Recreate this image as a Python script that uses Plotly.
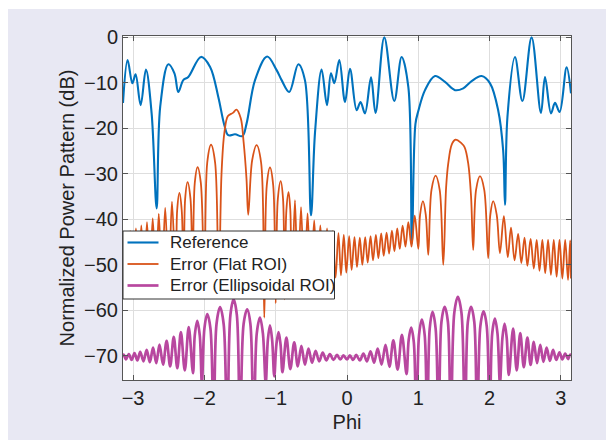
import plotly.graph_objects as go

# ---- Reference pattern (blue) ----
phi_ref = [-3.1416, -3.077, -3.01, -2.965, -2.894, -2.82, -2.74, -2.67, -2.62, -2.506,
           -2.42, -2.366, -2.296, -2.226, -2.048, -1.92, -1.805, -1.72, -1.665, -1.57,
           -1.468, -1.408, -1.29, -1.12, -0.987, -0.917, -0.81, -0.683, -0.59, -0.505,
           -0.449, -0.356, -0.281, -0.225, -0.178, -0.108, -0.028, 0.042, 0.135, 0.19,
           0.252, 0.337, 0.40, 0.523, 0.663, 0.766, 0.86, 0.91, 0.96, 1.0,
           1.094, 1.234, 1.374, 1.515, 1.63, 1.748, 1.888, 2.006, 2.12, 2.19,
           2.216, 2.25, 2.356, 2.46, 2.589, 2.72, 2.777, 2.861, 2.917, 2.982,
           3.08, 3.1416]
db_ref = [-14.4, -5.0, -10.1, -8.1, -14.9, -7.1, -16.7, -37.6, -15.3, -5.9,
          -7.9, -12.0, -9.4, -8.7, -4.3, -6.5, -13.1, -19.3, -21.5, -21.3,
          -21.7, -18.9, -9.4, -4.2, -7.2, -9.4, -12.0, -5.9, -9.4, -39.1,
          -21.0, -7.1, -14.9, -7.9, -10.1, -5.0, -14.2, -6.9, -16.0, -14.2,
          -16.7, -8.8, -16.6, 0.0, -14.0, -4.3, -10.9, -45.3, -19.0, -16.2,
          -11.6, -8.5, -9.8, -11.6, -11.2, -9.6, -8.5, -10.1, -16.0, -24.8,
          -36.8, -17.5, -4.3, -14.0, 0.0, -16.6, -8.7, -16.7, -14.4, -16.4,
          -6.6, -12.3]

# ---- Error with flat ROI (orange) ----
phi_flat = [-3.1416, -3.12, -3.08, -3.04, -3.00, -2.96, -2.92, -2.885, -2.845, -2.805,
            -2.765, -2.725, -2.68, -2.64, -2.595, -2.55, -2.50, -2.455, -2.40, -2.382,
            -2.35, -2.318, -2.29, -2.27, -2.236, -2.195, -2.165, -2.135, -2.095, -2.05,
            -2.00, -1.96, -1.907, -1.85, -1.80, -1.76, -1.72, -1.67, -1.60, -1.55,
            -1.49, -1.45, -1.41, -1.385, -1.33, -1.268, -1.205, -1.16, -1.125, -1.08,
            -1.035, -1.0, -0.97, -0.93, -0.897, -0.875, -0.85, -0.82, -0.795, -0.775,
            -0.73, -0.69, -0.645, -0.60, -0.553, -0.51, -0.46, -0.42, -0.374, -0.33,
            -0.28, -0.24, -0.20, -0.16, -0.12, -0.085, -0.045, -0.01, 0.03, 0.065,
            0.105, 0.14, 0.18, 0.215, 0.255, 0.29, 0.33, 0.365, 0.405, 0.44,
            0.48, 0.515, 0.555, 0.59, 0.63, 0.665, 0.705, 0.74, 0.78, 0.82,
            0.86, 0.905, 0.95, 1.0, 1.025, 1.065, 1.105, 1.14, 1.185, 1.243,
            1.30, 1.35, 1.39, 1.42, 1.47, 1.52, 1.60, 1.65, 1.70, 1.74,
            1.77, 1.81, 1.865, 1.925, 1.98, 2.01, 2.05, 2.10, 2.145, 2.20,
            2.255, 2.30, 2.35, 2.40, 2.445, 2.49, 2.53, 2.575, 2.62, 2.66,
            2.70, 2.74, 2.78, 2.82, 2.86, 2.90, 2.94, 2.98, 3.02, 3.06,
            3.10, 3.13, 3.1416]
db_flat = [-47.0, -43.1, -52.8, -42.6, -52.9, -42.0, -53.0, -41.3, -53.2, -40.6,
           -53.4, -39.8, -53.6, -38.8, -53.9, -37.5, -54.2, -36.1, -54.6, -38.0,
           -34.2, -38.0, -55.0, -35.5, -31.8, -35.5, -55.5, -32.0, -28.5, -32.0,
           -56.0, -27.5, -23.6, -27.5, -56.5, -30.0, -21.0, -17.3, -16.6, -15.9,
           -17.8, -23.0, -31.0, -39.0, -27.0, -23.7, -27.5, -61.6, -32.5, -28.6,
           -32.5, -58.4, -35.5, -31.6, -35.5, -57.6, -38.0, -34.0, -38.0, -56.5,
           -35.8, -55.6, -37.3, -54.9, -38.7, -54.3, -40.2, -53.8, -41.3, -53.4,
           -42.0, -53.1, -42.6, -52.8, -43.0, -52.3, -43.4, -51.7, -43.7, -51.1,
           -43.9, -50.5, -44.0, -50.0, -43.9, -49.5, -43.7, -49.0, -43.4, -48.5,
           -43.1, -48.0, -42.9, -47.5, -42.5, -47.0, -42.0, -46.5, -41.4, -46.0,
           -40.6, -46.0, -39.2, -46.5, -39.0, -36.0, -39.0, -47.8, -33.5, -30.4,
           -33.5, -50.0, -33.0, -27.7, -23.5, -22.5, -23.2, -24.2, -27.7, -35.0,
           -46.7, -33.5, -30.5, -33.5, -48.5, -39.0, -36.0, -39.0, -47.4, -39.3,
           -48.3, -41.8, -49.0, -43.2, -49.6, -44.0, -50.2, -44.3, -50.8, -44.5,
           -51.3, -44.5, -51.8, -44.5, -52.2, -44.5, -52.6, -44.5, -53.0, -44.5,
           -53.3, -44.6, -53.0]

# ---- Error with ellipsoidal ROI (magenta) ----
phi_ell = [-3.1416, -3.13, -3.10, -3.06, -3.02, -2.98, -2.94, -2.90, -2.855, -2.81,
           -2.765, -2.72, -2.675, -2.63, -2.58, -2.53, -2.48, -2.43, -2.38, -2.33,
           -2.275, -2.22, -2.16, -2.135, -2.10, -2.065, -2.035, -2.00, -1.96, -1.915,
           -1.87, -1.83, -1.78, -1.73, -1.68, -1.635, -1.59, -1.545, -1.50, -1.45,
           -1.40, -1.355, -1.31, -1.265, -1.22, -1.18, -1.14, -1.11, -1.08, -1.05,
           -1.02, -0.99, -0.96, -0.932, -0.905, -0.85, -0.795, -0.74, -0.69, -0.64,
           -0.59, -0.54, -0.49, -0.44, -0.39, -0.34, -0.29, -0.24, -0.19, -0.14,
           -0.095, -0.05, 0.0, 0.04, 0.085, 0.13, 0.18, 0.23, 0.28, 0.33,
           0.38, 0.43, 0.485, 0.54, 0.595, 0.65, 0.71, 0.77, 0.835, 0.865,
           0.90, 0.937, 0.975, 1.01, 1.05, 1.09, 1.125, 1.16, 1.20, 1.243,
           1.285, 1.325, 1.37, 1.415, 1.455, 1.505, 1.555, 1.605, 1.655, 1.695,
           1.74, 1.785, 1.825, 1.87, 1.915, 1.96, 2.0, 2.037, 2.075, 2.11,
           2.145, 2.18, 2.21, 2.24, 2.27, 2.33, 2.38, 2.43, 2.48, 2.53,
           2.575, 2.62, 2.665, 2.71, 2.755, 2.80, 2.845, 2.89, 2.935, 2.98,
           3.02, 3.06, 3.10, 3.13, 3.1416]
db_ell = [-70.3, -69.7, -70.8, -69.6, -70.9, -69.4, -71.0, -69.1, -71.2, -68.7,
          -71.4, -68.2, -71.6, -67.5, -71.9, -66.7, -72.3, -65.8, -72.7, -64.8,
          -73.2, -63.7, -73.8, -65.5, -62.3, -65.5, -76.0, -64.0, -60.8, -64.0,
          -90.0, -63.0, -59.3, -63.0, -90.0, -61.0, -57.6, -61.0, -90.0, -63.0,
          -59.8, -63.0, -90.0, -65.0, -61.6, -65.0, -76.0, -66.5, -63.3, -66.5,
          -74.5, -67.5, -64.8, -67.5, -73.6, -66.0, -72.9, -67.0, -72.3, -67.8,
          -71.9, -68.4, -71.5, -68.9, -71.2, -69.3, -71.0, -69.6, -70.9, -69.8,
          -70.8, -69.9, -70.8, -69.9, -70.9, -69.8, -71.0, -69.5, -71.2, -69.0,
          -71.5, -68.4, -71.9, -67.6, -72.4, -66.6, -73.0, -65.4, -74.0, -66.5,
          -63.8, -67.0, -90.0, -65.5, -62.0, -65.5, -90.0, -64.0, -60.3, -64.0,
          -90.0, -62.5, -59.2, -62.5, -90.0, -60.5, -57.0, -60.5, -90.0, -62.5,
          -59.2, -62.5, -90.0, -63.5, -60.2, -63.5, -90.0, -65.0, -61.8, -65.0,
          -76.0, -66.0, -62.9, -66.0, -74.2, -64.0, -73.2, -65.0, -72.5, -66.0,
          -72.0, -66.9, -71.6, -67.6, -71.3, -68.2, -71.1, -68.7, -70.9, -69.2,
          -70.8, -69.5, -70.7, -69.7, -70.0]

x_ticks = [-3, -2, -1, 0, 1, 2, 3]
y_ticks = [0, -10, -20, -30, -40, -50, -60, -70]

series_names = ["Reference", "Error (Flat ROI)", "Error (Ellipsoidal ROI)"]
series_colors = ["#0072bd", "#d95319", "#b8479f"]
series_widths = [2.1, 1.8, 2.7]

FONT = "Liberation Sans, Arial, Helvetica, sans-serif"
TEXT = "#222222"
BG = "#e8e8f3"

fig = go.Figure()
for (xs, ys), name, color, width, smooth in zip(
        [(phi_ref, db_ref), (phi_flat, db_flat), (phi_ell, db_ell)],
        series_names, series_colors, series_widths, [1.0, 1.0, 1.0]):
    fig.add_trace(go.Scatter(x=xs, y=ys, mode="lines", name=name, showlegend=False,
                             line=dict(color=color, width=width, shape="spline",
                                       smoothing=smooth)))

axis_common = dict(
    showgrid=True, gridcolor="#dedede", gridwidth=1,
    zeroline=False, showline=True, linecolor="#555555", linewidth=1, mirror="ticks",
    ticks="inside", ticklen=5, tickcolor="#555555",
    tickfont=dict(family=FONT, size=20, color=TEXT),
)

fig.update_xaxes(range=[-3.1416, 3.1416], tickvals=x_ticks,
                 title=dict(text="Phi", font=dict(family=FONT, size=20, color=TEXT), standoff=6),
                 **axis_common)
fig.update_yaxes(range=[-75.3, 0.3], tickvals=y_ticks,
                 title=dict(text="Normalized Power Pattern (dB)",
                            font=dict(family=FONT, size=20, color=TEXT), standoff=4),
                 **axis_common)

# page geometry in pixels
W, H = 606, 444
L, R, T, B = 123, 35, 36, 64
pw, ph = W - L - R, H - T - B
def px_x(px):
    return (px - L) / pw
def px_y(py):
    return (H - B - py) / ph

# white border strips around the tinted page
for x0, x1, y0, y1 in [(0, 8, 0, H), (0, W, 0, 9), (0, W, 440, H)]:
    fig.add_shape(type="rect", xref="paper", yref="paper",
                  x0=px_x(x0), x1=px_x(x1), y0=px_y(y1), y1=px_y(y0),
                  fillcolor="white", line=dict(width=0), layer="below")

# legend box drawn over the plot area
fig.add_shape(type="rect", xref="paper", yref="paper",
              x0=px_x(123), x1=px_x(334.5), y0=px_y(299), y1=px_y(231),
              fillcolor="white", line=dict(color="#333333", width=1), layer="above")
for i, (name, color, width) in enumerate(zip(series_names, series_colors, series_widths)):
    yc = 242.5 + 21.5 * i
    fig.add_shape(type="line", xref="paper", yref="paper",
                  x0=px_x(127.5), x1=px_x(158.5), y0=px_y(yc), y1=px_y(yc),
                  line=dict(color=color, width=width), layer="above")
    fig.add_annotation(xref="paper", yref="paper", x=px_x(168), y=px_y(yc),
                       text=name, showarrow=False, xanchor="left", yanchor="middle",
                       font=dict(family=FONT, size=17, color=TEXT))

fig.update_layout(
    width=W, height=H,
    margin=dict(l=L, r=R, t=T, b=B),
    paper_bgcolor=BG, plot_bgcolor="white",
    font=dict(family=FONT, color=TEXT),
    showlegend=False,
)

fig.write_html("out.html")
